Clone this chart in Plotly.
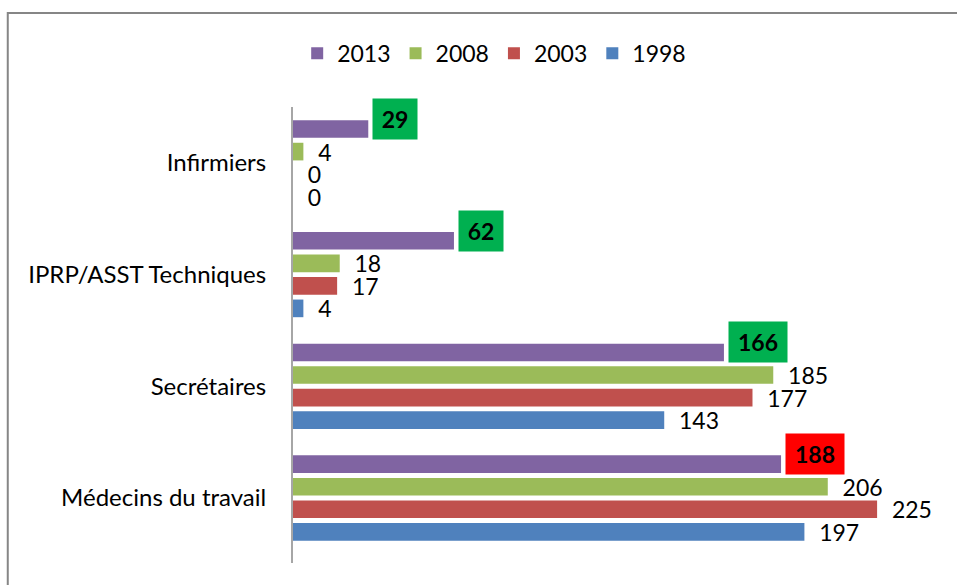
import plotly.graph_objects as go

categories = ["Infirmiers", "IPRP/ASST Techniques", "Secrétaires", "Médecins du travail"]
years = ["2013", "2008", "2003", "1998"]
values = {
    "2013": [29, 62, 166, 188],
    "2008": [4, 18, 185, 206],
    "2003": [0, 17, 177, 225],
    "1998": [0, 4, 143, 197],
}
colors = {"2013": "#8064A2", "2008": "#9BBB59", "2003": "#C0504D", "1998": "#4F81BD"}
box_colors_2013 = ["#00B050", "#00B050", "#00B050", "#FF0000"]

FONT = "Lato"
fig = go.Figure()
for yr in years:
    vals = values[yr]
    if yr == "2013":
        txt = [""] * len(vals)
    else:
        txt = ["\u00a0\u00a0" + str(v) for v in vals]
    fig.add_trace(go.Bar(
        name=yr, y=categories, x=vals, orientation="h",
        marker=dict(color=colors[yr], line=dict(width=0)),
        text=txt, textposition="outside", constraintext="none",
        textfont=dict(family=FONT, size=23, color="#000000"),
        cliponaxis=False, hoverinfo="skip",
    ))

for cat, v, bc in zip(categories, values["2013"], box_colors_2013):
    s = str(v)
    fig.add_annotation(
        x=v, y=cat, xref="x", yref="y", text="<b>" + s + "</b>",
        showarrow=False, xanchor="left", yanchor="middle",
        xshift=4, yshift=44,
        bgcolor=bc, width=36 if len(s) == 2 else 50, height=32, borderpad=4,
        font=dict(family=FONT, size=23, color="#000000"),
    )

fig.add_shape(type="rect", xref="paper", yref="paper",
              x0=-0.4395, y0=-0.2, x1=1.2, y1=1.206,
              line=dict(color="#868686", width=2), fillcolor="rgba(0,0,0,0)", layer="below")

fig.update_layout(
    width=957, height=585,
    margin=dict(l=293, r=15, t=107, b=22),
    paper_bgcolor="white", plot_bgcolor="white",
    barmode="group", bargap=0.193, bargroupgap=0.217,
    font=dict(family=FONT, size=23, color="#000000"),
    showlegend=True,
    legend=dict(orientation="h", x=0.31, xanchor="center", y=1.118, yanchor="middle",
                font=dict(family=FONT, size=23, color="#000000"),
                itemwidth=30, tracegroupgap=0),
    xaxis=dict(range=[0, 250], visible=False, showgrid=False, zeroline=False, fixedrange=True),
    yaxis=dict(autorange="reversed", showline=True, linecolor="#A6A6A6", linewidth=2,
               ticks="", ticklabelstandoff=20, showgrid=False, zeroline=False,
               tickfont=dict(family=FONT, size=24, color="#000000")),
)

fig.write_html("out.html", config={"displayModeBar": False},
               post_script="document.body.style.margin='0';document.body.style.overflow='hidden';")
